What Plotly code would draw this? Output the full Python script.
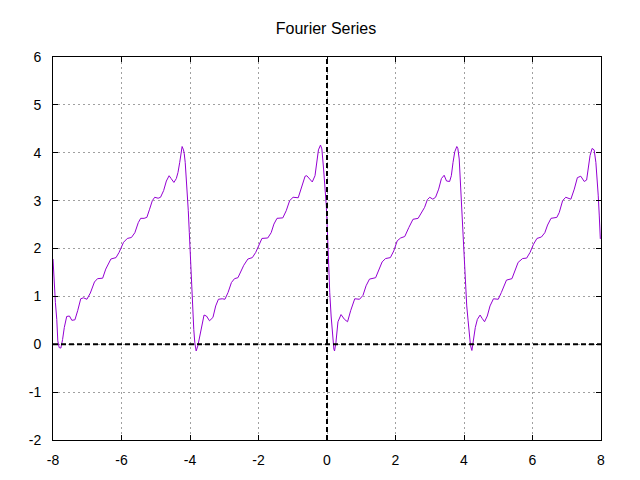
import plotly.graph_objects as go

x_vals = [
    -8.00, -7.97, -7.93, -7.89, -7.86, -7.82, -7.77, -7.72, -7.67, -7.60, -7.52, -7.45, -7.36, -7.28,
    -7.19, -7.11, -7.01, -6.91, -6.79, -6.70, -6.55, -6.46, -6.31, -6.16, -6.07, -5.94, -5.83, -5.71,
    -5.61, -5.51, -5.44, -5.34,
    -5.26, -5.18, -5.10, -5.03, -4.93, -4.86, -4.77, -4.69, -4.61, -4.55, -4.47, -4.40, -4.35, -4.30,
    -4.26, -4.23, -4.19, -4.17, -4.14, -4.11, -4.08, -4.05, -4.02, -3.99, -3.96, -3.93, -3.89, -3.86,
    -3.82, -3.77, -3.72, -3.66, -3.59, -3.52, -3.43, -3.33, -3.25, -3.17, -3.06, -2.98, -2.89, -2.79,
    -2.70,
    -2.60, -2.52, -2.43, -2.31, -2.18, -2.08, -1.98, -1.90, -1.73, -1.63, -1.55, -1.46, -1.29, -1.19,
    -1.09, -0.99, -0.84, -0.74, -0.64, -0.59, -0.50, -0.43, -0.35, -0.30, -0.25, -0.19, -0.15, -0.10,
    -0.05, -0.02, 0.01, 0.04, 0.08, 0.12, 0.16, 0.20, 0.22, 0.26,
    0.32, 0.41, 0.51, 0.60, 0.69, 0.81, 0.95, 1.05, 1.14, 1.24, 1.42, 1.51, 1.61, 1.71, 1.85, 1.95,
    2.05, 2.15, 2.27, 2.39, 2.51, 2.66, 2.76,
    2.85, 2.93, 3.00, 3.09, 3.17, 3.26, 3.34, 3.42, 3.49, 3.58, 3.63, 3.68, 3.73, 3.79, 3.82, 3.86,
    3.90, 3.94, 3.98, 4.01, 4.04, 4.08, 4.12, 4.16, 4.19, 4.23, 4.28, 4.33, 4.39, 4.47, 4.53, 4.60,
    4.68, 4.76, 4.86, 5.00, 5.09, 5.24, 5.40,
    5.51, 5.58, 5.71, 5.83, 5.93, 6.03, 6.13, 6.26, 6.36, 6.44, 6.54, 6.71, 6.78, 6.88, 6.97, 7.12,
    7.22, 7.31, 7.41, 7.51, 7.58, 7.63, 7.68, 7.74, 7.80, 7.85, 7.89, 7.92, 7.95, 7.98,
]
y_vals = [
    1.78, 1.32, 0.87, 0.52, 0.07, -0.07, -0.08, 0.10, 0.35, 0.58, 0.59, 0.50, 0.51, 0.70,
    0.95, 0.97, 0.94, 1.07, 1.30, 1.37, 1.38, 1.57, 1.78, 1.81, 1.92, 2.13, 2.21, 2.23,
    2.33, 2.54, 2.63, 2.63,
    2.65, 2.82, 3.00, 3.07, 3.05, 3.07, 3.21, 3.41, 3.52, 3.46, 3.38, 3.46, 3.59, 3.80,
    4.02, 4.13, 4.06, 3.99, 3.80, 3.52, 3.17, 2.79, 2.33, 1.88, 1.36, 0.73, 0.31, 0.03,
    -0.14, -0.03, 0.14, 0.35, 0.61, 0.59, 0.49, 0.56, 0.80, 0.94, 0.95, 0.94, 1.08, 1.29,
    1.37,
    1.39, 1.50, 1.65, 1.78, 1.81, 1.92, 2.09, 2.21, 2.22, 2.33, 2.51, 2.63, 2.64, 2.79,
    3.00, 3.07, 3.06, 3.28, 3.51, 3.52, 3.45, 3.39, 3.52, 3.80, 4.06, 4.16, 4.08, 3.66,
    3.28, 2.89, 2.40, 1.71, 1.08, 0.59, 0.17, -0.10, -0.14, 0.03,
    0.47, 0.62, 0.52, 0.47, 0.70, 0.95, 0.94, 1.02, 1.22, 1.36, 1.39, 1.53, 1.72, 1.79, 1.81, 1.95,
    2.16, 2.22, 2.25, 2.44, 2.61, 2.63, 2.75,
    2.86, 3.02, 3.07, 3.03, 3.07, 3.24, 3.46, 3.53, 3.41, 3.40, 3.52, 3.80, 4.02, 4.13, 4.09, 3.87,
    3.31, 2.68, 2.13, 1.64, 1.22, 0.80, 0.49, 0.19, -0.03, -0.13, 0.10, 0.35, 0.52, 0.61, 0.54, 0.47,
    0.59, 0.80, 0.95, 0.94, 1.08, 1.34, 1.37,
    1.57, 1.71, 1.79, 1.80, 1.92, 2.09, 2.21, 2.24, 2.33, 2.49, 2.63, 2.65, 2.75, 3.00, 3.07, 3.03,
    3.24, 3.48, 3.51, 3.40, 3.43, 3.66, 3.94, 4.09, 4.06, 3.80, 3.45, 3.10, 2.68, 2.20,
]

x_ticks = [-8, -6, -4, -2, 0, 2, 4, 6, 8]
y_ticks = [-2, -1, 0, 1, 2, 3, 4, 5, 6]
title_text = "Fourier Series"

FONT = "Liberation Sans, Arial, sans-serif"

fig = go.Figure()
fig.add_trace(go.Scatter(x=x_vals, y=y_vals, mode="lines",
                         line=dict(color="#9400D3", width=1), showlegend=False))

# dashed zero axes (gnuplot style)
fig.add_shape(type="line", xref="paper", yref="y", x0=0, x1=1, y0=0, y1=0,
              line=dict(color="black", width=2, dash="5px,3px"))
fig.add_shape(type="line", xref="x", yref="paper", x0=0, x1=0, y0=0, y1=1,
              line=dict(color="black", width=2, dash="5px,3px"))

axis_common = dict(
    showgrid=True, gridcolor="#a0a0a0", gridwidth=1, griddash="2px,3px",
    zeroline=False, showline=True, linecolor="black", linewidth=1, mirror="allticks",
    ticks="inside", ticklen=5, tickcolor="black",
    tickfont=dict(family=FONT, size=14, color="black"),
)

fig.update_xaxes(range=[-8, 8], tickvals=x_ticks, ticktext=[str(v) for v in x_ticks],
                 ticklabelstandoff=7, **axis_common)
fig.update_yaxes(range=[-2, 6], tickvals=y_ticks, ticktext=[str(v) for v in y_ticks],
                 ticklabelstandoff=8, **axis_common)

fig.update_layout(
    width=640, height=480,
    margin=dict(l=45, r=47, t=49, b=48),
    paper_bgcolor="white", plot_bgcolor="white",
    title=dict(text=title_text, x=318 / 640, xanchor="center",
               y=1 - 20 / 480, yanchor="middle", yref="container",
               font=dict(family=FONT, size=16, color="black")),
)

fig.write_html("out.html")
